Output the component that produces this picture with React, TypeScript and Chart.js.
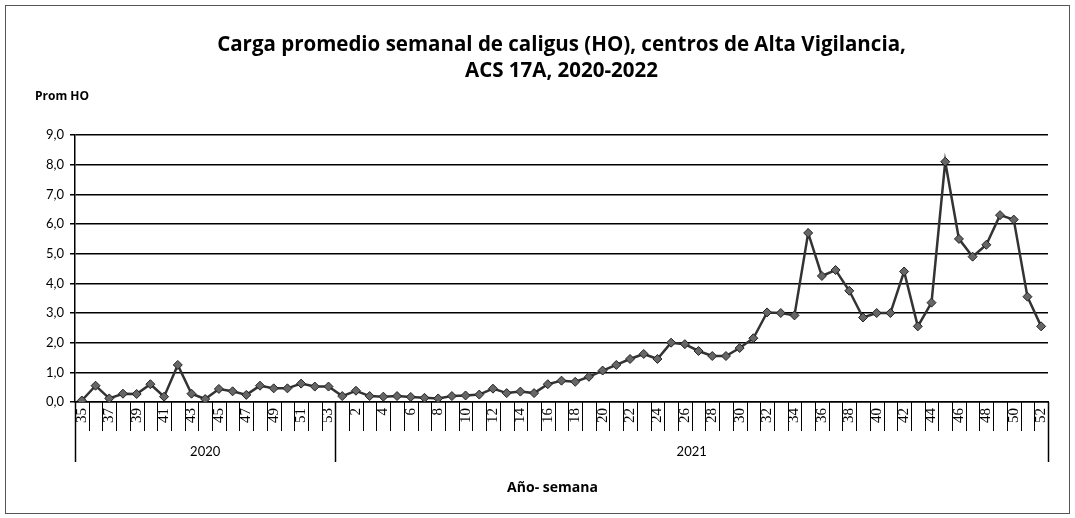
import { useEffect, useRef } from 'react';
import { Chart, registerables } from 'chart.js';

Chart.register(...registerables);

const FONT = 'Lato, "Liberation Sans", sans-serif';
const TITLE_FONT = '"Open Sans", "Noto Sans", sans-serif';
const TICK_FONT = '"Liberation Serif", serif';

const titleLines = [
  'Carga promedio semanal de caligus (HO), centros de Alta Vigilancia,',
  'ACS 17A, 2020-2022',
];
const yAxisLabel = 'Prom HO';
const xAxisLabel = 'Año- semana';
const yearLabels = ['2020', '2021'];

const weeks2020 = ['35', '36', '37', '38', '39', '40', '41', '42', '43', '44', '45', '46', '47', '48', '49', '50', '51', '52', '53'];
const weeks2021 = [
  '1', '2', '3', '4', '5', '6', '7', '8', '9', '10', '11', '12', '13', '14', '15', '16', '17', '18', '19', '20',
  '21', '22', '23', '24', '25', '26', '27', '28', '29', '30', '31', '32', '33', '34', '35', '36', '37', '38', '39', '40',
  '41', '42', '43', '44', '45', '46', '47', '48', '49', '50', '51', '52',
];

const values2020 = [0.05, 0.55, 0.12, 0.28, 0.27, 0.6, 0.18, 1.25, 0.28, 0.1, 0.44, 0.36, 0.24, 0.55, 0.46, 0.46, 0.62, 0.52, 0.52];
const values2021 = [
  0.2, 0.38, 0.2, 0.18, 0.2, 0.17, 0.14, 0.12, 0.2, 0.22, 0.25, 0.45, 0.3, 0.35, 0.3, 0.6, 0.72, 0.68, 0.85, 1.06,
  1.25, 1.45, 1.62, 1.45, 2.0, 1.95, 1.72, 1.55, 1.55, 1.82, 2.15, 3.02, 3.0, 2.92, 5.7, 4.25, 4.45, 3.75, 2.85, 3.0,
  3.0, 4.4, 2.55, 3.35, 8.1, 5.5, 4.9, 5.3, 6.3, 6.15, 3.55, 2.55,
];

export default function App() {
  const ref = useRef<HTMLCanvasElement>(null);

  useEffect(() => {
    if (!ref.current) return;
    const labels = [...weeks2020, ...weeks2021];
    const data = [...values2020, ...values2021];
    const groups = [
      { label: yearLabels[0], start: 0, end: weeks2020.length },
      { label: yearLabels[1], start: weeks2020.length, end: labels.length },
    ];

    const overlay = {
      id: 'overlay',
      afterDraw(chart: any) {
        const ctx = chart.ctx as CanvasRenderingContext2D;
        const xs = chart.scales.x;
        const area = chart.chartArea;
        const boundary = (i: number) => {
          if (i <= 0) return area.left;
          if (i >= labels.length) return area.right;
          return (xs.getPixelForValue(i - 1) + xs.getPixelForValue(i)) / 2;
        };
        ctx.save();
        // outer frame
        ctx.strokeStyle = '#555';
        ctx.lineWidth = 1;
        ctx.strokeRect(5.5, 5.5, 1064, 508);
        // category boundary ticks
        ctx.strokeStyle = '#000';
        ctx.lineWidth = 1;
        for (let i = 1; i < labels.length; i++) {
          const x = Math.round(boundary(i)) + 0.5;
          ctx.beginPath();
          ctx.moveTo(x, area.bottom);
          ctx.lineTo(x, area.bottom + 29);
          ctx.stroke();
        }
        // group separators
        ctx.lineWidth = 1.5;
        [0, weeks2020.length, labels.length].forEach((i) => {
          const x = Math.round(boundary(i)) + 0.5;
          ctx.beginPath();
          ctx.moveTo(x, area.bottom);
          ctx.lineTo(x, area.bottom + 60);
          ctx.stroke();
        });
        // group labels
        ctx.fillStyle = '#000';
        ctx.font = `13px ${FONT}`;
        ctx.textAlign = 'center';
        ctx.textBaseline = 'middle';
        groups.forEach((g) => {
          const x = (boundary(g.start) + boundary(g.end)) / 2;
          ctx.fillText(g.label, x, area.bottom + 50);
        });
        // axis titles
        ctx.font = `bold 14px ${TITLE_FONT}`;
        ctx.fillText(xAxisLabel, (area.left + area.right) / 2 - 9, area.bottom + 86);
        ctx.textAlign = 'left';
        ctx.font = `bold 12px ${TITLE_FONT}`;
        ctx.fillText(yAxisLabel, 35, 97);
        ctx.restore();
      },
    };

    const chart = new Chart(ref.current, {
      type: 'line',
      data: {
        labels,
        datasets: [
          {
            data,
            borderColor: '#333',
            borderWidth: 2.5,
            pointStyle: 'rectRot',
            pointRadius: 4.5,
            pointBackgroundColor: '#666',
            pointBorderColor: '#222',
            pointBorderWidth: 1,
            tension: 0,
          },
        ],
      },
      options: {
        responsive: false,
        animation: false,
        layout: { padding: { top: 0, right: 27, bottom: 0, left: 0 } },
        plugins: {
          legend: { display: false },
          tooltip: { enabled: false },
          title: {
            display: true,
            fullSize: false,
            text: titleLines,
            color: '#000',
            font: { family: TITLE_FONT, size: 20.5, weight: 'bold', lineHeight: 1.27 },
            padding: { top: 32, bottom: 51 },
          },
        },
        scales: {
          x: {
            type: 'category',
            offset: true,
            grid: { display: false, drawTicks: false },
            border: { display: true, color: '#000', width: 1.5 },
            ticks: {
              autoSkip: false,
              maxRotation: 90,
              minRotation: 90,
              padding: 6,
              color: '#000',
              font: { family: TICK_FONT, size: 15 },
              callback: (_v: any, i: number) => (i % 2 === 0 ? labels[i] : ''),
            },
            afterFit: (s: any) => {
              s.height = 116;
            },
          },
          y: {
            min: 0,
            max: 9,
            ticks: {
              stepSize: 1,
              padding: 6,
              color: '#000',
              font: { family: FONT, size: 13 },
              callback: (v: any) => Number(v).toFixed(1).replace('.', ','),
            },
            grid: { color: '#000', lineWidth: 1.5, drawTicks: true, tickLength: 5 },
            border: { display: true, color: '#000', width: 1.5 },
            afterFit: (s: any) => {
              s.width = 75;
            },
          },
        },
      },
      plugins: [overlay],
    });
    return () => chart.destroy();
  }, []);

  return (
    <div style={{ position: 'fixed', left: 0, top: 0, width: 1075, height: 518, background: '#fff' }}>
      <canvas ref={ref} width={1075} height={518} />
    </div>
  );
}
